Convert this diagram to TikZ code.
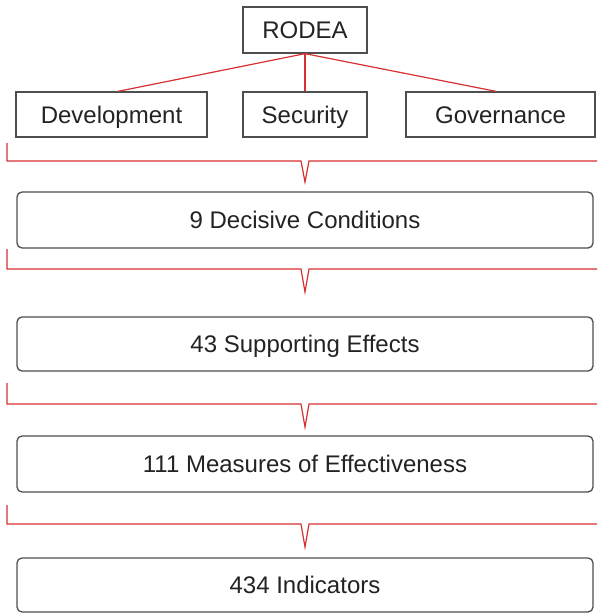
\documentclass[tikz,border=0pt]{standalone}
\usepackage{fontspec}
\setmainfont{Liberation Sans}
\definecolor{brk}{RGB}{214,48,48}
\definecolor{bord}{RGB}{78,78,78}
\definecolor{txt}{RGB}{35,35,35}
\tikzset{
  sqbox/.style={draw=bord, line width=1.3pt, fill=white, text=txt, inner sep=0pt,
    text height=17.2pt, text depth=0pt,
    font=\fontsize{24}{28}\selectfont},
  rbox/.style={sqbox, rounded corners=5pt},
  redline/.style={draw=brk, line width=1.2pt, line join=miter},
}
\begin{document}
\begin{tikzpicture}[x=1pt,y=-1pt]
\useasboundingbox (0,0) rectangle (597,613);
% top level
\node[sqbox, minimum width=124pt, minimum height=46pt] (rodea) at (305,30) {RODEA};
\node[sqbox, minimum width=191pt, minimum height=45pt] (dev) at (111.5,114.5) {Development};
\node[sqbox, minimum width=124pt, minimum height=45pt] (sec) at (305,114.5) {Security};
\node[sqbox, minimum width=189pt, minimum height=45pt] (gov) at (500.5,114.5) {Governance};
\draw[redline] (rodea.south) -- (dev.north east -| 118,0);
\draw[redline] (rodea.south) -- (sec.north);
\draw[redline] (rodea.south) -- (gov.north west -| 496,0);
% stage boxes
\node[rbox, minimum width=576pt, minimum height=56pt] (dc) at (305,220) {9 Decisive Conditions};
\node[rbox, minimum width=576pt, minimum height=54pt] (se) at (305,344) {43 Supporting Effects};
\node[rbox, minimum width=576pt, minimum height=56pt] (moe) at (305,464) {111 Measures of Effectiveness};
\node[rbox, minimum width=576pt, minimum height=54pt] (ind) at (305,585) {434 Indicators};
% brackets
\coordinate (b1) at (7,143);
\coordinate (b2) at (7,249);
\coordinate (b3) at (7,383);
\coordinate (b4) at (7,505);
\foreach \b/\h/\t in {b1/161/182, b2/269/292, b3/404/427, b4/524/547}{
  \draw[redline] (\b) -- (7,\h) -- (301,\h) -- (305,\t) -- (309,\h) -- (597,\h);
}
\end{tikzpicture}
\end{document}
